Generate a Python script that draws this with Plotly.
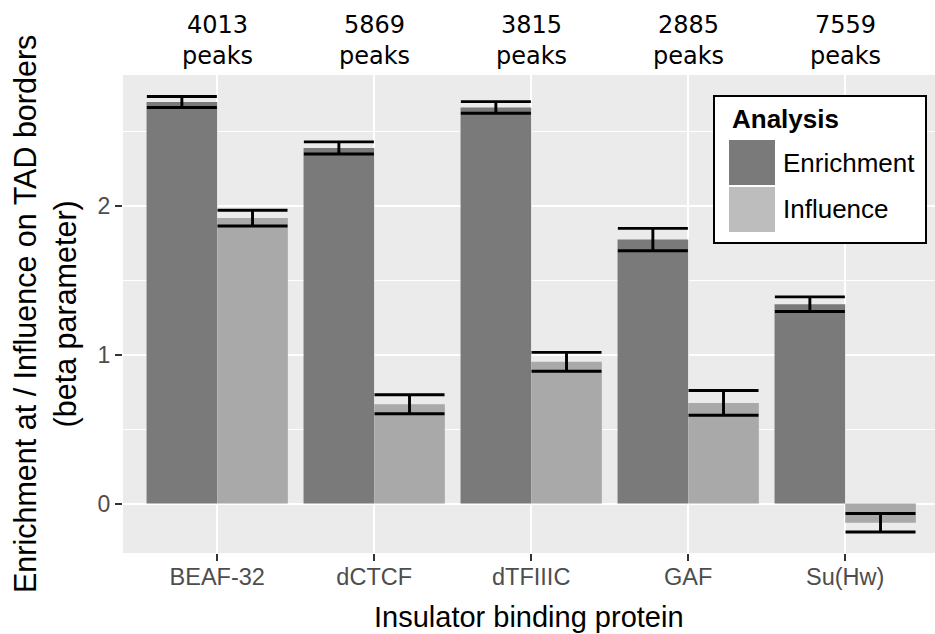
import plotly.graph_objects as go

proteins = ["BEAF-32", "dCTCF", "dTFIIIC", "GAF", "Su(Hw)"]
peaks = [4013, 5869, 3815, 2885, 7559]
enrichment = [2.697, 2.388, 2.660, 1.773, 1.339]
enrichment_err = [0.037, 0.041, 0.039, 0.075, 0.049]
influence = [1.917, 0.667, 0.952, 0.676, -0.129]
influence_err = [0.053, 0.064, 0.063, 0.083, 0.062]

W, H = 935, 634
L, R, T, B = 123, 0, 75, 81
PW, PH = W - L - R, H - T - B

DARK = "#7a7a7a"
LIGHT = "#a9a9a9"
LIGHT_KEY = "#bdbdbd"
SANS = "Liberation Sans, Arial, sans-serif"


def px_x(px):
    return (px - L) / PW


def px_y(py):
    return (H - B - py) / PH


fig = go.Figure()
fig.add_trace(go.Bar(
    x=proteins, y=enrichment, name="Enrichment",
    marker=dict(color=DARK, line=dict(width=0)),
    error_y=dict(type="data", array=enrichment_err, color="black", thickness=2.9, width=35),
    showlegend=False,
))
fig.add_trace(go.Bar(
    x=proteins, y=influence, name="Influence",
    marker=dict(color=LIGHT, line=dict(width=0)),
    error_y=dict(type="data", array=influence_err, color="black", thickness=2.9, width=35),
    showlegend=False,
))

annotations = []
for p, n in zip(proteins, peaks):
    annotations.append(dict(
        x=p, xref="x", y=1, yref="paper", yanchor="middle", yshift=T - 40,
        text=f"{n}<br>peaks", showarrow=False,
        font=dict(family="DejaVu Sans", size=24, color="black"),
    ))

# axis titles
annotations.append(dict(
    x=0.5, xref="paper", y=0, yref="paper", yanchor="middle", yshift=-(617 - (H - B)),
    text="Insulator binding protein", showarrow=False,
    font=dict(family=SANS, size=29, color="black"),
))
annotations.append(dict(
    x=0, xref="paper", xanchor="center", xshift=45 - L, y=0.5, yref="paper", yanchor="middle",
    text="Enrichment at / Influence on TAD borders<br>(beta parameter)", textangle=-90,
    showarrow=False, font=dict(family=SANS, size=30.5, color="black"),
))

# manual legend
shapes = [
    dict(type="rect", xref="paper", yref="paper", x0=px_x(714), x1=px_x(926), y0=px_y(243), y1=px_y(96),
         fillcolor="white", line=dict(color="black", width=2), layer="above"),
    dict(type="rect", xref="paper", yref="paper", x0=px_x(729), x1=px_x(775), y0=px_y(185), y1=px_y(140),
         fillcolor=DARK, line=dict(width=0), layer="above"),
    dict(type="rect", xref="paper", yref="paper", x0=px_x(729), x1=px_x(775), y0=px_y(232), y1=px_y(187),
         fillcolor=LIGHT_KEY, line=dict(width=0), layer="above"),
]
annotations.append(dict(x=px_x(730), xref="paper", xanchor="left", y=px_y(119), yref="paper", yanchor="middle",
                        text="<b>Analysis</b>", showarrow=False, font=dict(family=SANS, size=26, color="black")))
annotations.append(dict(x=px_x(781), xref="paper", xanchor="left", y=px_y(163), yref="paper", yanchor="middle",
                        text="Enrichment", showarrow=False, font=dict(family=SANS, size=26, color="black")))
annotations.append(dict(x=px_x(781), xref="paper", xanchor="left", y=px_y(209), yref="paper", yanchor="middle",
                        text="Influence", showarrow=False, font=dict(family=SANS, size=26, color="black")))

fig.update_layout(
    width=W, height=H, margin=dict(l=L, r=R, t=T, b=B, pad=0),
    paper_bgcolor="white", plot_bgcolor="#ebebeb",
    barmode="group", bargap=0.1, bargroupgap=0,
    annotations=annotations, shapes=shapes,
    showlegend=False,
)
fig.update_xaxes(
    type="category", categoryorder="array", categoryarray=proteins,
    range=[-0.6, 4.572], showgrid=True, gridcolor="white", gridwidth=2.4,
    ticks="outside", ticklen=7, tickwidth=2.4, tickcolor="#333333",
    tickfont=dict(family=SANS, size=23.5, color="#4d4d4d"),
    ticklabelstandoff=-4,
    showline=False, zeroline=False,
)
fig.update_yaxes(
    range=[-0.332, 2.878], tickvals=[0, 1, 2], ticktext=["0", "1", "2"],
    showgrid=True, gridcolor="white", gridwidth=2.4,
    minor=dict(tickvals=[-0.5, 0.5, 1.5, 2.5], showgrid=True, gridcolor="white", gridwidth=1.2, ticks=""),
    ticks="outside", ticklen=7, tickwidth=2.4, tickcolor="#333333",
    tickfont=dict(family=SANS, size=23, color="#4d4d4d"),
    showline=False, zeroline=False,
)

fig.write_html("out.html")
